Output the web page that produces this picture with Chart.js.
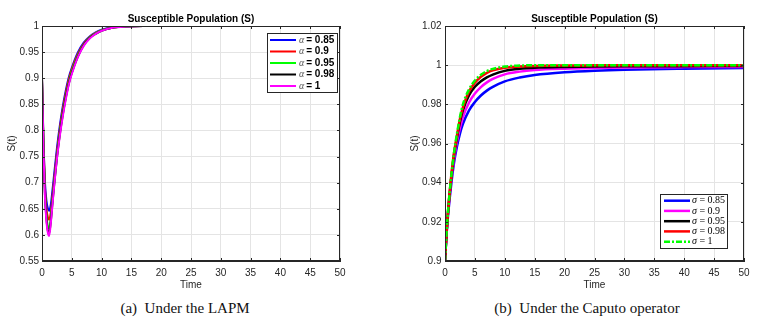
<!DOCTYPE html>
<html>
<head>
<meta charset="utf-8">
<script src="https://cdn.jsdelivr.net/npm/chart.js@4.4.1/dist/chart.umd.min.js"></script>
<style>
body{margin:0;background:#fff;width:765px;height:326px;position:relative;overflow:hidden}
.box{position:absolute;top:0;width:380px;height:295px}
.cap{position:absolute;top:300px;width:380px;text-align:center;font-family:"Liberation Serif","Times New Roman",serif;font-size:15px;color:#111;white-space:pre}
</style>
</head>
<body>
<div class="box" style="left:0"><canvas id="lapm"></canvas></div>
<div class="box" style="left:385px"><canvas id="caputo"></canvas></div>
<div class="cap" style="left:-5px">(a)  Under the LAPM</div>
<div class="cap" style="left:397px">(b)  Under the Caputo operator</div>
<script>
// --- Data: (a) LAPM ---
const lapmTime = [0, 0.25, 0.5, 0.75, 1, 1.2, 1.5, 1.75, 2, 2.5, 3, 3.5, 4, 4.5, 5, 6, 7, 8, 9, 10, 12, 14, 17, 20, 30, 40, 50];
const lapmS085 = [0.9, 0.78, 0.70, 0.665, 0.65, 0.646, 0.66, 0.685, 0.712, 0.765, 0.81, 0.847, 0.877, 0.902, 0.92, 0.949, 0.968, 0.98, 0.988, 0.993, 0.998, 0.9995, 1, 1, 1, 1, 1];
const lapmS09  = [0.9, 0.775, 0.69, 0.65, 0.633, 0.629, 0.645, 0.673, 0.702, 0.757, 0.803, 0.841, 0.872, 0.898, 0.917, 0.946, 0.966, 0.979, 0.987, 0.992, 0.997, 0.9993, 1, 1, 1, 1, 1];
const lapmS095 = [0.9, 0.77, 0.68, 0.637, 0.616, 0.612, 0.635, 0.665, 0.695, 0.75, 0.797, 0.835, 0.866, 0.893, 0.913, 0.943, 0.964, 0.978, 0.986, 0.992, 0.997, 0.9992, 1, 1, 1, 1, 1];
const lapmS098 = [0.9, 0.765, 0.675, 0.63, 0.607, 0.603, 0.628, 0.66, 0.691, 0.747, 0.793, 0.831, 0.863, 0.89, 0.91, 0.941, 0.963, 0.977, 0.985, 0.991, 0.997, 0.9991, 1, 1, 1, 1, 1];
const lapmS1   = [0.9, 0.76, 0.67, 0.625, 0.603, 0.598, 0.625, 0.657, 0.688, 0.745, 0.79, 0.828, 0.86, 0.888, 0.908, 0.94, 0.962, 0.976, 0.985, 0.991, 0.997, 0.999, 1, 1, 1, 1, 1];
const lapmOrders = ['0.85', '0.9', '0.95', '0.98', '1'];

// --- Data: (b) Caputo ---
const caputoTime = [0, 0.25, 0.5, 1, 1.5, 2, 2.5, 3, 4, 5, 6, 7, 8, 10, 12.5, 15, 20, 25, 30, 40, 50];
const caputoS085 = [0.9, 0.913, 0.923, 0.938, 0.95, 0.9585, 0.965, 0.97, 0.9768, 0.9812, 0.9845, 0.987, 0.9889, 0.9917, 0.9937, 0.995, 0.9964, 0.9972, 0.9977, 0.9982, 0.9985];
const caputoS09  = [0.9, 0.914, 0.924, 0.94, 0.952, 0.961, 0.968, 0.9735, 0.9808, 0.9855, 0.9888, 0.9912, 0.993, 0.9953, 0.9967, 0.9975, 0.9982, 0.9986, 0.9988, 0.999, 0.9991];
const caputoS095 = [0.9, 0.914, 0.925, 0.941, 0.954, 0.963, 0.971, 0.977, 0.9845, 0.989, 0.9918, 0.9938, 0.9952, 0.9971, 0.9982, 0.9987, 0.9991, 0.9993, 0.9994, 0.9995, 0.9996];
const caputoS098 = [0.9, 0.914, 0.925, 0.942, 0.955, 0.964, 0.9725, 0.9785, 0.9865, 0.991, 0.9941, 0.9961, 0.9974, 0.9987, 0.9993, 0.9996, 0.9998, 0.9999, 1, 1, 1];
const caputoS1   = [0.9, 0.914, 0.925, 0.942, 0.955, 0.965, 0.9735, 0.98, 0.9875, 0.9922, 0.9951, 0.997, 0.9981, 0.9993, 0.9998, 1, 1, 1, 1, 1, 1];
const caputoOrders = ['0.85', '0.9', '0.95', '0.98', '1'];

const INK = '#262626';
Chart.defaults.font.family = '"Liberation Sans", Arial, sans-serif';
Chart.defaults.font.size = 10;
Chart.defaults.color = INK;

function pts(xs, ys){ return xs.map((x,i)=>({x, y: ys[i]})); }

function makeSets(xs, series, colors, width, dashes){
  return series.map((ys,i)=>({
    label: i, data: pts(xs, ys), borderColor: colors[i], backgroundColor: colors[i],
    borderWidth: width, borderDash: dashes[i] || [], pointRadius: 0,
    cubicInterpolationMode: 'monotone', fill: false, order: series.length - i
  }));
}

// matlab-like tick text: 1, 0.95, 0.9 ...
const fmt = v => String(Math.round(v * 10000) / 10000);

function scales(yMin, yMax, yStep, yWidth, yTitlePad, yPad){
  return {
    x: { type:'linear', min:0, max:50,
      ticks:{ stepSize:5, padding:6, callback: fmt },
      grid:{ color:'#e4e4e4', drawTicks:false },
      border:{ color:INK },
      title:{ display:true, text:'Time', padding:{top:0,bottom:4} },
      afterFit(s){ s.height = 34; } },
    y: { min:yMin, max:yMax,
      ticks:{ stepSize:yStep, padding:yPad, callback: fmt },
      grid:{ color:'#e4e4e4', drawTicks:false },
      border:{ color:INK },
      title:{ display:true, text:'S(t)', padding:{top:yTitlePad,bottom:0} },
      afterFit(s){ s.width = yWidth; } }
  };
}

// --- frame, inward ticks, title, legend ---
const decor = {
  id: 'decor',
  afterDraw(chart, args, o){
    const {ctx, chartArea: a, scales: {x, y}} = chart;
    ctx.save();
    ctx.strokeStyle = INK; ctx.lineWidth = 1;
    ctx.strokeRect(a.left + 0.5, a.top + 0.5, a.right - a.left - 1, a.bottom - a.top - 1);
    ctx.beginPath();
    x.ticks.forEach(t=>{
      const px = Math.round(x.getPixelForValue(t.value)) + 0.5;
      ctx.moveTo(px, a.bottom); ctx.lineTo(px, a.bottom - 3);
      ctx.moveTo(px, a.top); ctx.lineTo(px, a.top + 3);
    });
    y.ticks.forEach(t=>{
      const py = Math.round(y.getPixelForValue(t.value)) + 0.5;
      ctx.moveTo(a.left, py); ctx.lineTo(a.left + 3, py);
      ctx.moveTo(a.right, py); ctx.lineTo(a.right - 3, py);
    });
    ctx.stroke();

    // title
    ctx.fillStyle = '#000';
    ctx.font = 'bold 10px "Liberation Sans", Arial, sans-serif';
    ctx.textAlign = 'center'; ctx.textBaseline = 'middle';
    ctx.fillText('Susceptible Population (S)', (a.left + a.right) / 2, 19);

    // legend
    const L = o.box;
    ctx.fillStyle = '#fff';
    ctx.fillRect(L.x, L.y, L.w, L.h);
    ctx.strokeStyle = INK; ctx.lineWidth = 1;
    ctx.strokeRect(L.x + 0.5, L.y + 0.5, L.w, L.h);
    chart.data.datasets.forEach((ds, i)=>{
      const ry = L.rows[i];
      ctx.beginPath();
      ctx.strokeStyle = ds.borderColor; ctx.lineWidth = ds.borderWidth;
      ctx.setLineDash(ds.borderDash);
      ctx.moveTo(L.lx1, ry); ctx.lineTo(L.lx2, ry); ctx.stroke();
      ctx.setLineDash([]);
      ctx.textAlign = 'left'; ctx.textBaseline = 'middle';
      ctx.fillStyle = o.symColor;
      ctx.font = o.symFont;
      ctx.fillText(o.sym, L.tx, ry);
      const w = ctx.measureText(o.sym).width;
      ctx.fillStyle = '#000';
      ctx.font = o.valFont;
      ctx.fillText(o.eq + o.labels[i], L.tx + w + o.gap, ry);
    });
    ctx.restore();
  }
};

const COLORS = ['#0000ff', '#ff0000', '#00ff00', '#000000', '#ff00ff'];
new Chart(document.getElementById('lapm'), {
  type: 'line',
  data: { datasets: makeSets(lapmTime, [lapmS085, lapmS09, lapmS095, lapmS098, lapmS1], COLORS, 2, []) },
  options: {
    responsive: true, maintainAspectRatio: false, animation: false,
    layout: { padding: { top: 26, right: 40, left: 0, bottom: 0 } },
    scales: scales(0.55, 1, 0.05, 42, 6, 3),
    plugins: {
      legend: { display: false }, tooltip: { enabled: false },
      decor: { box: { x: 267, y: 33, w: 70, h: 59, rows: [40, 51.5, 63, 74.5, 86], lx1: 270, lx2: 296, tx: 299 },
        sym: 'α', symFont: 'italic 10px "Liberation Serif", serif', symColor: '#555',
        eq: '= ', gap: 2, valFont: 'bold 10px "Liberation Sans", Arial, sans-serif', labels: lapmOrders }
    }
  },
  plugins: [decor]
});

const COLORS_B = ['#0000ff', '#ff00ff', '#000000', '#ff0000', '#00ff00'];
new Chart(document.getElementById('caputo'), {
  type: 'line',
  data: { datasets: makeSets(caputoTime, [caputoS085, caputoS09, caputoS095, caputoS098, caputoS1], COLORS_B, 2.5, [null, null, null, null, [6, 2, 2, 2]]) },
  options: {
    responsive: true, maintainAspectRatio: false, animation: false,
    layout: { padding: { top: 26, right: 21, left: 0, bottom: 0 } },
    scales: scales(0.9, 1.02, 0.02, 60, 24, 3.5),
    plugins: {
      legend: { display: false }, tooltip: { enabled: false },
      decor: { box: { x: 275, y: 194, w: 67, h: 54, rows: [200.7, 210.9, 221.2, 231.4, 241.7], lx1: 279, lx2: 305, tx: 307 },
        sym: 'σ', symFont: 'italic 10px "Liberation Serif", serif', symColor: '#000',
        eq: ' = ', gap: 0, valFont: '10px "Liberation Serif", serif', labels: caputoOrders }
    }
  },
  plugins: [decor]
});
</script>
</body>
</html>
